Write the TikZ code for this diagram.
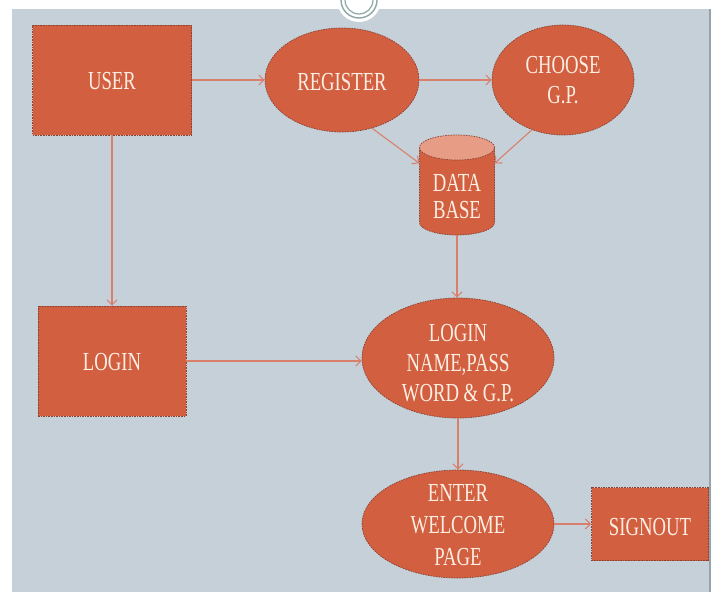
\documentclass[tikz,border=0pt]{standalone}
\usepackage{fontspec}
\setmainfont{Liberation Serif}[FakeStretch=0.72]
\usetikzlibrary{arrows.meta,shapes.geometric}
\definecolor{bg}{HTML}{C5D0D8}
\definecolor{bgedge}{HTML}{97A3AB}
\definecolor{boxfill}{HTML}{D15F40}
\definecolor{boxedge}{HTML}{8A4333}
\definecolor{txt}{HTML}{FCEEE2}
\definecolor{arr}{HTML}{D8806C}
\definecolor{captop}{HTML}{E79C86}
\definecolor{ring}{HTML}{8FA6A6}
\begin{document}
\begin{tikzpicture}[x=1pt,y=-1pt,
  edgestyle/.style={draw=boxedge, line width=0.7pt, dash pattern=on 1.6pt off 1pt},
  rectbox/.style={rectangle, fill=boxfill, edgestyle, inner sep=0pt},
  ellbox/.style={ellipse, fill=boxfill, edgestyle, inner sep=0pt},
  txtlabel/.style={text=txt, font=\fontsize{26}{30}\selectfont, align=center, inner sep=0pt},
  conn/.style={draw=arr, line width=1.1pt, -{Straight Barb[length=5pt,width=10pt]}}]
\useasboundingbox (0,0) rectangle (715,592);
\clip (0,0) rectangle (715,592);
% background panel
\fill[white] (0,0) rectangle (715,592);
\fill[bg] (12,9) rectangle (710,592);
\draw[bgedge, line width=1.2pt] (710,9) -- (710,592);
% top ring ornament
\fill[white] (359,0) circle[radius=22pt];
\draw[ring, line width=1.4pt] (359,0) circle[radius=18pt];
\draw[ring, line width=1.2pt] (359,0) circle[radius=14pt];

% shapes
\node[rectbox, minimum width=159pt, minimum height=110pt] (user) at (112,80) {};
\node[ellbox, minimum width=154pt, minimum height=104pt] (reg) at (342,80) {};
\node[ellbox, minimum width=142pt, minimum height=110pt] (choose) at (563,80) {};
\node[rectbox, minimum width=148pt, minimum height=110pt] (login) at (112,361) {};
\node[ellbox, minimum width=192pt, minimum height=120pt] (lnp) at (458,358) {};
\node[ellbox, minimum width=192pt, minimum height=108pt] (enter) at (458,524) {};
\node[rectbox, minimum width=117pt, minimum height=73pt] (signout) at (650,524) {};

% database cylinder
\node[inner sep=0pt, minimum width=75pt, minimum height=100pt] (db) at (457,185) {};
\fill[boxfill] (419.5,147.5) -- (419.5,222.5)
  arc[start angle=180, end angle=360, x radius=37.5pt, y radius=12.5pt]
  -- (494.5,147.5) -- cycle;
\draw[edgestyle] (419.5,147.5) -- (419.5,222.5)
  arc[start angle=180, end angle=360, x radius=37.5pt, y radius=12.5pt]
  -- (494.5,147.5);
\filldraw[fill=captop, edgestyle] (457,147.5) ellipse[x radius=37.5pt, y radius=12.5pt];

% labels
\node[txtlabel] (userT) at (112,81) {USER};
\node[txtlabel] (regT) at (342,82) {REGISTER};
\node[txtlabel] (chooseT) at (563,80) {CHOOSE\\G.P.};
\node[txtlabel, font=\fontsize{26}{27}\selectfont] (dbT) at (457,197) {DATA\\BASE};
\node[txtlabel] (loginT) at (112,362) {LOGIN};
\node[txtlabel] (lnpT) at (458,363) {LOGIN\\NAME,PASS\\WORD \& G.P.};
\node[txtlabel, font=\fontsize{26}{32}\selectfont] (enterT) at (458,525) {ENTER\\WELCOME\\PAGE};
\node[txtlabel] (signoutT) at (650,527) {SIGNOUT};

% connectors
\draw[conn] (user.east) -- (reg.west);
\draw[conn] (reg.east) -- (choose.west);
\draw[conn] (reg.-58) -- (db.150);
\draw[conn] (choose.-122) -- (db.30);
\draw[conn] (user.south) -- (login.north);
\draw[conn] (login.east) -- (login.east -| lnp.west);
\draw[conn] (db.south) -- (db.south |- lnp.north);
\draw[conn] (lnp.south) -- (enter.north);
\draw[conn] (enter.east) -- (signout.west);
\end{tikzpicture}
\end{document}
